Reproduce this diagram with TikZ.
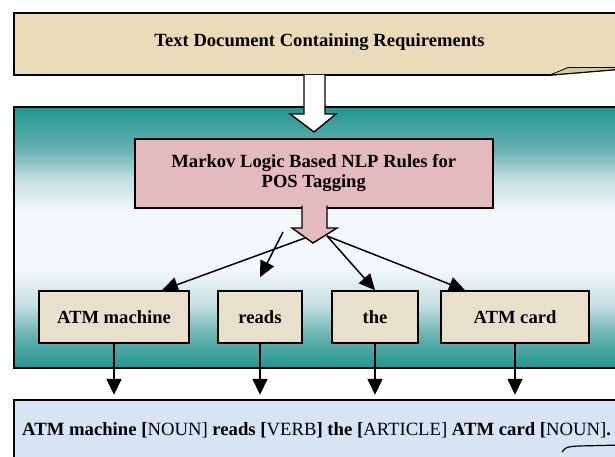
\documentclass[tikz,border=0pt]{standalone}
\usepackage{fontspec}
\setmainfont{Liberation Serif}
\usetikzlibrary{positioning,arrows.meta}
\definecolor{colordoc}   {RGB}{234,220,184}
\definecolor{colorrule}  {RGB}{228,186,190}
\definecolor{colorword}  {RGB}{233,224,204}
\definecolor{colortags}  {RGB}{214,228,243}
\definecolor{colorfold}  {RGB}{205,205,160}
\definecolor{tealdark}   {RGB}{33,150,145}
\definecolor{tealmid}    {RGB}{100,178,175}
\definecolor{tealpale}   {RGB}{196,223,225}
\definecolor{tealwhite}  {RGB}{243,248,250}
\pgfdeclareverticalshading{panelshade}{100bp}{color(0bp)=(tealdark); color(25bp)=(tealdark);
  color(31bp)=(tealmid); color(37bp)=(tealpale); color(44bp)=(tealwhite); color(55bp)=(tealwhite);
  color(61bp)=(tealpale); color(67bp)=(tealmid); color(75bp)=(tealdark); color(100bp)=(tealdark)}

\begin{document}
\begin{tikzpicture}[
    x=1pt, y=-1pt,
    font={\fontsize{18.6}{20}\selectfont\bfseries},
    box/.style={draw=black,line width=1.6pt},
    word/.style={box,fill=colorword,minimum height=52pt,inner sep=0pt},
    blockarrow/.style={draw=black,line width=1.4pt,line join=miter},
    conn/.style={line width=1.5pt,-{Triangle[length=16pt,width=15pt]}},
]
    \useasboundingbox (0,0) rectangle (615,457);
    \clip (0,0) rectangle (615,457);

    % requirements document
    \draw[box,fill=colordoc] (14,13) -- (622,13) -- (622,69) -- (550,75) -- (14,75) -- cycle;
    \filldraw[fill=colorfold,draw=black,line width=0.8pt] (550,75) -- (568,67.5) -- (622,67.5) -- (622,69) -- cycle;
    \node (doc) at (319.5,42) {Text Document Containing Requirements};

    % tagging panel
    \draw[box,shading=panelshade] (14,107) rectangle (622,368);
    \filldraw[blockarrow,fill=white] (304,75) -- (304,114) -- (290,114) -- (314,132) -- (336,114) -- (325,114) -- (325,75);

    \node[box,fill=colorrule,minimum width=358pt,minimum height=69pt,align=center] (rules) at (313.75,173.5)
        {Markov Logic Based NLP Rules for\\POS Tagging};
    \filldraw[blockarrow,fill=colorrule] (302,205.5) -- (302,228) -- (292,228) -- (313,243) -- (337,228) -- (327,228) -- (327,205.5);

    \node[word,minimum width=150pt] (mach)  at (114,317) {ATM machine};
    \node[word,minimum width=84pt]  (reads) at (260,317) {reads};
    \node[word,minimum width=86pt]  (the)   at (375,317) {the};
    \node[word,minimum width=148pt] (card)  at (515,317) {ATM card};

    \coordinate (splitL) at (305,238);
    \coordinate (splitR) at (327,236);
    \coordinate (splitW) at (283,232);
    \draw[conn] (splitL) -- ([xshift=48pt]mach.north);
    \draw[conn] (splitW) -- ([yshift=13pt]reads.north);
    \draw[conn] (splitR) -- (the.north);
    \draw[conn] (splitR) -- ([xshift=-50pt]card.north);

    % tagged sentence
    \draw[box,fill=colortags] (14,400) rectangle (622,470);
    \node[anchor=west,inner sep=0pt,font={\fontsize{18.7}{20}\selectfont}] (tags) at (22,430)
        {\textbf{ATM machine [}NOUN] \textbf{reads [}VERB\textbf{]} \textbf{the [}ARTICLE] \textbf{ATM card [}NOUN]\textbf{.}};
    \draw[line width=1.2pt] (562,452) .. controls (566,447) .. (578,446) -- (622,445);

    \foreach \w in {mach,reads,the,card}
        \draw[conn] (\w.south) -- ++(0,51);

\end{tikzpicture}
\end{document}
